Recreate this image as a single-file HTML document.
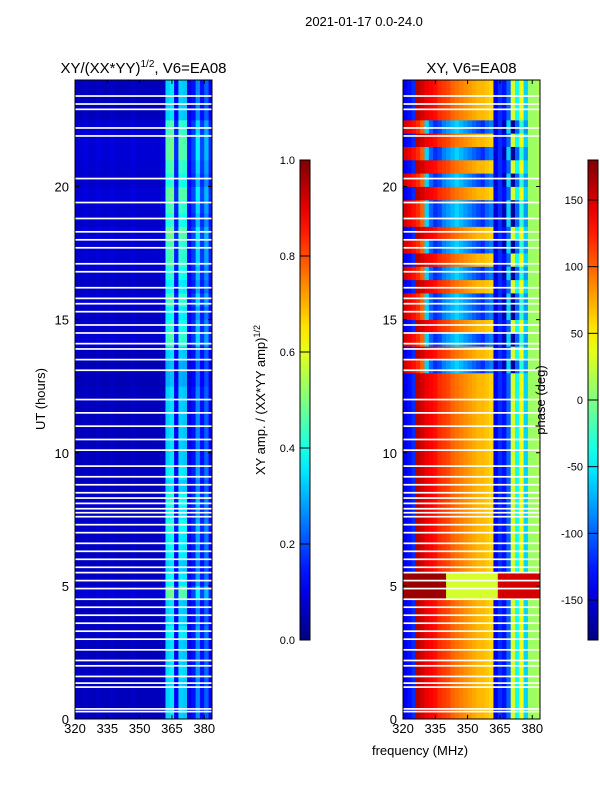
<!DOCTYPE html>
<html><head><meta charset="utf-8"><style>
body{margin:0;background:#fff;width:600px;height:800px;overflow:hidden}
svg{font-family:"Liberation Sans","DejaVu Sans",sans-serif}
</style></head><body>
<svg id="s" width="600" height="800"></svg>
<script>
// ---- data ----
const freqEdges=[320,322,324,326,328,330,332,334,336,338,340,342,344,346,348,350,352,354,356,358,360,362,364,366,368,370,372,374,376,378,380,382,384];
const ampProfile=[0.06,0.06,0.07,0.06,0.06,0.07,0.06,0.06,0.07,0.06,0.06,0.06,0.06,0.07,0.06,0.06,0.06,0.06,0.06,0.06,0.07,0.33,0.35,0.12,0.33,0.32,0.1,0.14,0.26,0.14,0.22,0.12];
const ampRowScale=[1,1,1,1.05,1,1,1.1,1,1,1.4,1.1,1,1.1,1.1,1.2,1.1,1.2,1,1.1,1,1,1,1,1,1,0.9,0.9,1,1.3,1.2,1.1,1.3,1.1,1.2,1.3,1.3,1.4,1.2,1.3,1.4,1.2,1.3,1.4,1.4,1.3,1,1,1];
const phaseA=[-140,-130,-120,160,150,140,135,130,120,115,110,100,95,90,85,80,75,70,70,65,60,-140,-120,-130,-100,30,-40,40,-60,10,10,15];
const phaseB=[150,140,130,120,100,-60,-100,-120,-110,-90,-80,-70,-60,-70,-80,-90,-100,-110,-120,-100,-90,-150,-120,-160,-60,-170,-100,-30,-80,10,10,15];
const rowType=['A','A','A','A','A','A','A','A','A','C','C','A','A','A','A','A','A','A','A','A','A','A','A','A','A','A','B','A','B','A','B','B','A','B','A','B','A','B','B','A','B','A','B','A','B','A','A','A'];
const gapHours=[0.28,0.38,1.2,1.35,1.6,2.0,2.2,2.6,3.0,3.3,3.6,3.9,4.2,4.5,4.9,5.2,5.5,5.7,6.0,6.3,6.6,7.0,7.3,7.6,7.75,7.9,8.1,8.3,8.5,8.8,9.1,9.5,10.1,10.5,11,11.5,12,13.1,13.5,13.9,14.1,14.5,14.8,15.3,15.6,15.8,16.2,16.8,17.1,17.7,18,18.3,18.8,19.4,20.3,21.9,22.2,22.9,23.1,23.4];
const ampTicks=[0,0.2,0.4,0.6,0.8,1.0];
const phaseTicks=[-150,-100,-50,0,50,100,150];
const xTicks=[320,335,350,365,380];
const yTicks=[0,5,10,15,20];
// ---- helpers ----
const NS='http://www.w3.org/2000/svg',S=document.getElementById('s');
function el(t,a,p){const e=document.createElementNS(NS,t);for(const k in a)e.setAttribute(k,a[k]);(p||S).appendChild(e);return e;}
function jet(v){v=Math.max(0,Math.min(1,v));const r=Math.min(Math.max(Math.min(4*v-1.5,-4*v+4.5),0),1),g=Math.min(Math.max(Math.min(4*v-0.5,-4*v+3.5),0),1),b=Math.min(Math.max(Math.min(4*v+0.5,-4*v+2.5),0),1);return `rgb(${r*255|0},${g*255|0},${b*255|0})`;}
const T=80,B=719,fMin=320,fMax=383.6;
function yS(h){return B-(h/24)*(B-T);}
function panel(x0,name,valFn,title){
  const W=137,xS=f=>x0+(f-fMin)/(fMax-fMin)*W;
  const g=el('g',{});
  const cp=el('clipPath',{id:'c'+name});el('rect',{x:x0,y:T,width:W,height:B-T},cp);g.setAttribute('clip-path','url(#c'+name+')');
  for(let r=0;r<rowType.length;r++)for(let c=0;c<freqEdges.length-1;c++){
    const x1=xS(freqEdges[c]),x2=xS(freqEdges[c+1]),y1=yS((r+1)/2),y2=yS(r/2);
    const e=el('rect',{x:x1,y:y1,width:x2-x1+0.4,height:y2-y1+0.4,fill:valFn(r,c)},g);
    
  }
  gapHours.forEach(h=>{const e=el('rect',{x:x0,y:yS(h)-0.8,width:W,height:1.7,fill:'#fff'},g);});
  el('rect',{x:x0,y:T,width:W,height:B-T,fill:'none',stroke:'#000','stroke-width':1});
  xTicks.forEach(f=>{const x=xS(f);el('line',{x1:x,x2:x,y1:B,y2:B-4,stroke:'#000'});el('line',{x1:x,x2:x,y1:T,y2:T+4,stroke:'#000'});
    const t=el('text',{x:x,y:B+14,'font-size':13,'text-anchor':'middle'});t.textContent=f;});
  yTicks.forEach(h=>{const y=yS(h);el('line',{x1:x0,x2:x0+4,y1:y,y2:y,stroke:'#000'});el('line',{x1:x0+W,x2:x0+W-4,y1:y,y2:y,stroke:'#000'});
    const t=el('text',{x:x0-6,y:y+5,'font-size':13,'text-anchor':'end'});t.textContent=h;});
  const t=el('text',{x:x0+W/2,y:73,'font-size':15,'text-anchor':'middle'});t.innerHTML=title;
}
function phaseVal(r,c){const t=rowType[r];let p=t==='B'?phaseB[c]:phaseA[c];if(t==='C')p=c<10?170:(c<22?30:150);return jet((p+180)/360);}
panel(75,'amp',(r,c)=>jet(ampProfile[c]*ampRowScale[r]),'XY/(XX*YY)<tspan font-size="10" dy="-6">1/2</tspan><tspan dy="6">, V6=EA08</tspan>');
panel(403,'phase',phaseVal,'XY, V6=EA08');
function cbar(x,name,ticks,lo,hi){
  const g=el('g',{});
  const gr=el('linearGradient',{id:'g'+name,x1:0,y1:1,x2:0,y2:0},g);
  for(let i=0;i<=20;i++)el('stop',{offset:i/20,'stop-color':jet(i/20)},gr);
  el('rect',{x:x,y:160,width:10,height:480,fill:'url(#g'+name+')',stroke:'#000'},g);
  ticks.forEach(v=>{const y=640-(v-lo)/(hi-lo)*480;el('line',{x1:x,x2:x+10,y1:y,y2:y,stroke:'#000'},g);
    const t=el('text',{x:x-5,y:y+4,'font-size':11,'text-anchor':'end'},g);t.textContent=v===1?'1.0':v===0&&lo===0?'0.0':String(v);});
}
cbar(300,'amp-colorbar',ampTicks,0,1);
cbar(588,'phase-colorbar',phaseTicks,-180,180);
function txt(s,x,y,size,rot,name){const t=el('text',{x:x,y:y,'font-size':size,'text-anchor':'middle',transform:rot?`rotate(-90 ${x} ${y})`:''});t.innerHTML=s;}
txt('2021-01-17 0.0-24.0',364,26,13,0,'figure-title');
txt('UT (hours)',45,399,13,1,'y-axis-title');
txt('XY amp. / (XX*YY amp)<tspan font-size="9" dy="-5">1/2</tspan>',265,400,13,1,'amp-colorbar-title');
txt('phase (deg)',545,400,13,1,'phase-colorbar-title');
txt('frequency (MHz)',420,755,13,0,'x-axis-title');
</script>
</body></html>
